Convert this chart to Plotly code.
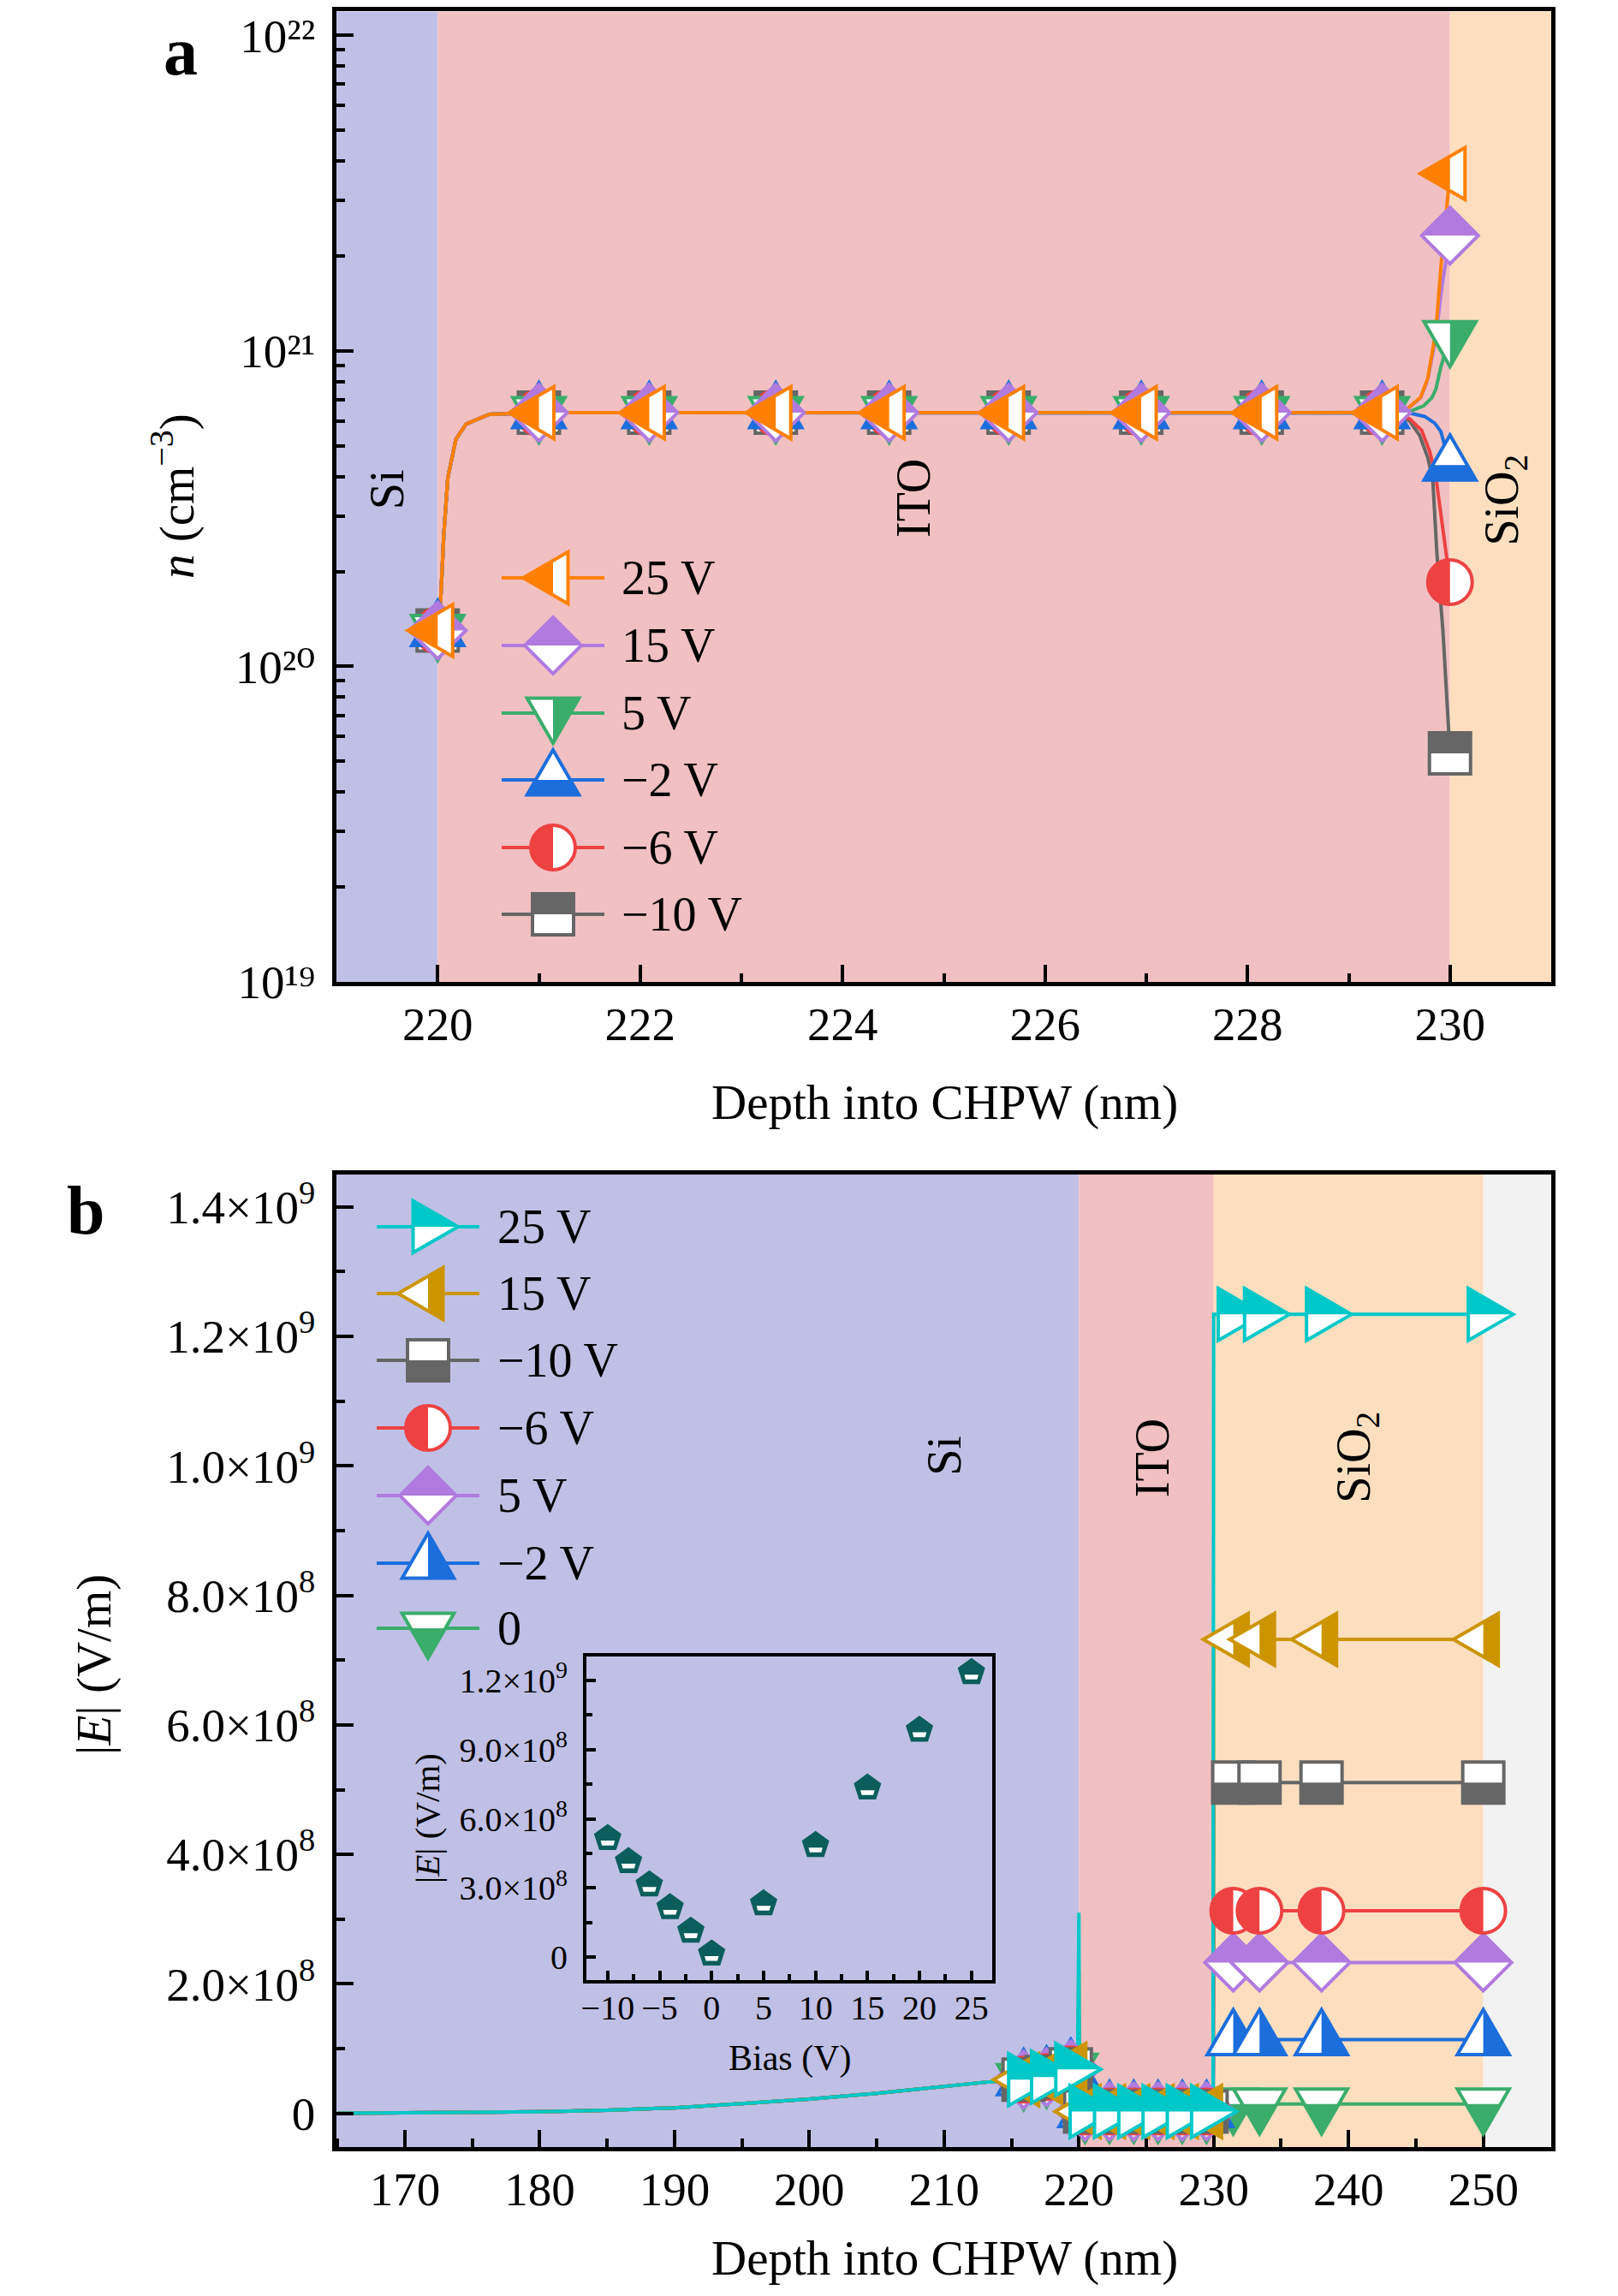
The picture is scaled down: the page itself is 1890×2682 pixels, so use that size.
import math
import plotly.graph_objects as go

W, H = 1890, 2682
OFF = 8  # default page body margin of the written html
WF, HF = W - 2 * OFF, H - 2 * OFF
FONT = "Liberation Serif"

# ---------------- Panel a: carrier density n (cm^-3) vs depth (nm) ----------------
depth_a_common = [220.0, 220.03, 220.06, 220.10, 220.18, 220.28, 220.51,
                  221.0, 222.09, 223.34, 224.46, 225.64, 226.95, 228.14, 229.33]
n_a_common = [1.30e20, 1.63e20, 2.60e20, 3.96e20, 5.25e20, 5.86e20, 6.30e20,
              6.37e20, 6.37e20, 6.37e20, 6.37e20, 6.37e20, 6.37e20, 6.37e20, 6.37e20]

tail_x_a_25 = [229.45, 229.58, 229.71, 229.78, 229.86, 229.91, 230.0]
tail_n_a_25 = [6.38e20, 6.57e20, 7.13e20, 8.19e20, 1.15e21, 1.84e21, 3.65e21]
tail_x_a_15 = [229.45, 229.58, 229.71, 229.78, 229.86, 229.92, 230.0]
tail_n_a_15 = [6.38e20, 6.55e20, 7.10e20, 8.10e20, 1.10e21, 1.60e21, 2.32e21]
tail_x_a_5 = [229.45, 229.60, 229.74, 229.82, 229.86, 229.91, 230.0]
tail_n_a_5 = [6.37e20, 6.42e20, 6.70e20, 7.10e20, 7.55e20, 8.90e20, 1.11e21]
tail_x_a_m2 = [229.45, 229.60, 229.75, 229.85, 229.91, 229.96, 230.0]
tail_n_a_m2 = [6.37e20, 6.35e20, 6.20e20, 5.90e20, 5.55e20, 4.90e20, 4.35e20]
tail_x_a_m6 = [229.45, 229.60, 229.72, 229.80, 229.86, 229.91, 229.96, 230.0]
tail_n_a_m6 = [6.30e20, 6.10e20, 5.60e20, 4.80e20, 4.00e20, 3.00e20, 2.30e20, 1.85e20]
tail_x_a_m10 = [229.45, 229.60, 229.70, 229.78, 229.83, 229.87, 229.93, 230.0]
tail_n_a_m10 = [6.30e20, 6.00e20, 5.40e20, 4.60e20, 3.90e20, 2.30e20, 1.30e20, 5.30e19]

marker_depth_a = [220.0, 221.0, 222.09, 223.34, 224.46, 225.64, 226.95, 228.14, 229.33, 230.0]

# ---------------- Panel b: |E| (V/m) vs depth (nm) ----------------
depth_b_si = [165.0, 170.0, 175.0, 180.0, 185.0, 190.0, 195.0, 200.0, 205.0, 210.0,
              213.0, 215.9, 217.6, 219.4, 219.9]
E_b_si = [2e5, 6e5, 1.2e6, 2.5e6, 5e6, 8.6e6, 1.5e7, 2.2e7, 3.1e7, 4.1e7,
          4.8e7, 5.2e7, 5.6e7, 6.8e7, 7.5e7]
depth_b_ito = [220.0, 220.05, 220.46, 222.27, 224.07, 225.87, 227.67, 229.47, 229.95]
E_ito_25 = [3.1e8, 3e6, 3e6, 3e6, 3e6, 3e6, 3e6, 3e6, 3e6]
E_ito_15 = [2.2e8, 3e6, 3e6, 3e6, 3e6, 3e6, 3e6, 3e6, 3e6]
E_ito_m10 = [1.5e8, 3e6, 3e6, 3e6, 3e6, 3e6, 3e6, 3e6, 3e6]
E_ito_m6 = [1.0e8, 3e6, 3e6, 3e6, 3e6, 3e6, 3e6, 3e6, 3e6]
E_ito_5 = [9.0e7, 3e6, 3e6, 3e6, 3e6, 3e6, 3e6, 3e6, 3e6]
E_ito_m2 = [6.0e7, 3e6, 3e6, 3e6, 3e6, 3e6, 3e6, 3e6, 3e6]
E_ito_0 = [3.0e7, 2e6, 2e6, 2e6, 2e6, 2e6, 2e6, 2e6, 2e6]
depth_b_ox = [230.0, 231.45, 233.4, 238.0, 250.0]
E_ox_25 = [1.234e9, 1.234e9, 1.234e9, 1.234e9, 1.234e9]
E_ox_15 = [7.32e8, 7.32e8, 7.32e8, 7.32e8, 7.32e8]
E_ox_m10 = [5.11e8, 5.11e8, 5.11e8, 5.11e8, 5.11e8]
E_ox_m6 = [3.13e8, 3.13e8, 3.13e8, 3.13e8, 3.13e8]
E_ox_5 = [2.33e8, 2.33e8, 2.33e8, 2.33e8, 2.33e8]
E_ox_m2 = [1.14e8, 1.14e8, 1.14e8, 1.14e8, 1.14e8]
E_ox_0 = [1.46e7, 1.46e7, 1.46e7, 1.46e7, 1.46e7]

marker_depth_b = [215.9, 217.6, 219.4, 220.46, 222.27, 224.07, 225.87, 227.67,
                  229.47, 231.45, 233.4, 238.0, 250.0]

# ---------------- Inset: |E| in SiO2 vs bias ----------------
bias_v = [-10, -8, -6, -4, -2, 0, 5, 10, 15, 20, 25]
E_inset = [5.15e8, 4.15e8, 3.14e8, 2.15e8, 1.13e8, 1.4e7, 2.32e8, 4.85e8, 7.34e8, 9.85e8, 1.235e9]

# ---------------- tick labels ----------------
SUP0 = "<span style='font-family:DejaVu Serif'>⁰</span>"
xtick_a = [220, 222, 224, 226, 228, 230]
ytick_a = [1e19, 1e20, 1e21, 1e22]
ytext_a = ["10¹⁹", "10²" + SUP0, "10²¹", "10²²"]
xtick_b = [170, 180, 190, 200, 210, 220, 230, 240, 250]
ytick_b = [0, 2e8, 4e8, 6e8, 8e8, 1.0e9, 1.2e9, 1.4e9]
ytext_b = ["0", "2.0×10<sup>8</sup>", "4.0×10<sup>8</sup>", "6.0×10<sup>8</sup>",
           "8.0×10<sup>8</sup>", "1.0×10<sup>9</sup>", "1.2×10<sup>9</sup>", "1.4×10<sup>9</sup>"]
xtick_in = [-10, -5, 0, 5, 10, 15, 20, 25]
xtext_in = ["−10", "−5", "0", "5", "10", "15", "20", "25"]
ytick_in = [0, 3e8, 6e8, 9e8, 1.2e9]
ytext_in = ["0", "3.0×10<sup>8</sup>", "6.0×10<sup>8</sup>", "9.0×10<sup>8</sup>", "1.2×10<sup>9</sup>"]

# ---------------- colours ----------------
ORANGE, PURPLE, GREEN, BLUE, RED, GRAY = "#FF8000", "#B07ADF", "#3AAD6B", "#1C6EDC", "#EE4242", "#666666"
CYAN, GOLD, TEAL = "#00C8C8", "#CC9500", "#0B5E5C"
C_SI, C_ITO, C_OX, C_AIR = "#C0C0E6", "#F1C0C2", "#FDDFC0", "#F2F2F2"

S3 = math.sqrt(3.0)


def xp(px):
    return (px - OFF) / WF


def yp(py):
    return 1 - (py - OFF) / HF


def poly(pts):
    return "M " + " L ".join(f"{x:.2f},{y:.2f}" for x, y in pts) + " Z"


def circle_full(r):
    k = 0.5523 * r
    return (f"M 0,{r:.2f} C {k:.2f},{r:.2f} {r:.2f},{k:.2f} {r:.2f},0 "
            f"C {r:.2f},{-k:.2f} {k:.2f},{-r:.2f} 0,{-r:.2f} "
            f"C {-k:.2f},{-r:.2f} {-r:.2f},{-k:.2f} {-r:.2f},0 "
            f"C {-r:.2f},{k:.2f} {-k:.2f},{r:.2f} 0,{r:.2f} Z")


def circle_left(r):
    k = 0.5523 * r
    return (f"M 0,{r:.2f} C {-k:.2f},{r:.2f} {-r:.2f},{k:.2f} {-r:.2f},0 "
            f"C {-r:.2f},{-k:.2f} {-k:.2f},{-r:.2f} 0,{-r:.2f} Z")


def geometry(sym, s, half):
    """returns (full outline path, partial path) in pixel offsets (y up)."""
    if sym == "tri-left":
        full = [(-s, 0), (s / 2, s * S3 / 2), (s / 2, -s * S3 / 2)]
        if half == "left":
            part = [(-s, 0), (0, s / S3), (0, -s / S3)]
        else:
            part = [(0, s / S3), (s / 2, s * S3 / 2), (s / 2, -s * S3 / 2), (0, -s / S3)]
        return poly(full), poly(part)
    if sym == "tri-right":
        full = [(s, 0), (-s / 2, s * S3 / 2), (-s / 2, -s * S3 / 2)]
        part = [(-s / 2, 0), (-s / 2, s * S3 / 2), (s, 0)]
        return poly(full), poly(part)
    if sym == "tri-up":
        full = [(0, s), (s * S3 / 2, -s / 2), (-s * S3 / 2, -s / 2)]
        if half == "bottom":
            part = [(-s / S3, 0), (s / S3, 0), (s * S3 / 2, -s / 2), (-s * S3 / 2, -s / 2)]
        else:
            part = [(0, s), (s * S3 / 2, -s / 2), (0, -s / 2)]
        return poly(full), poly(part)
    if sym == "tri-down":
        full = [(0, -s), (s * S3 / 2, s / 2), (-s * S3 / 2, s / 2)]
        if half == "right":
            part = [(0, s / 2), (s * S3 / 2, s / 2), (0, -s)]
        else:
            part = [(-s / S3, 0), (s / S3, 0), (0, -s)]
        return poly(full), poly(part)
    if sym == "diamond":
        full = [(0, s), (s, 0), (0, -s), (-s, 0)]
        part = [(-s, 0), (0, s), (s, 0)]
        return poly(full), poly(part)
    if sym == "square":
        full = [(-s, s), (s, s), (s, -s), (-s, -s)]
        if half == "top":
            part = [(-s, 0), (-s, s), (s, s), (s, 0)]
        else:
            part = [(-s, 0), (-s, -s), (s, -s), (s, 0)]
        return poly(full), poly(part)
    if sym == "circle":
        return circle_full(s), circle_left(s)
    if sym == "pentagon":
        full = [(s * math.cos(math.radians(a)), s * math.sin(math.radians(a)))
                for a in (90, 18, -54, -126, 162)]
        bar = [(-0.55 * s, -0.18 * s), (0.55 * s, -0.18 * s), (0.45 * s, -0.55 * s), (-0.45 * s, -0.55 * s)]
        return poly(full), poly(bar)
    raise ValueError(sym)


def marker_shapes(sym, s, half, color, x, y, xref, yref, lw=4):
    full, part = geometry(sym, s, half)
    common = dict(type="path", xref=xref, yref=yref, xsizemode="pixel", ysizemode="pixel",
                  xanchor=x, yanchor=y, layer="above")
    if sym == "pentagon":
        return [dict(common, path=full, fillcolor=color, line=dict(color=color, width=lw)),
                dict(common, path=part, fillcolor="white", line=dict(width=0))]
    return [dict(common, path=full, fillcolor="white", line=dict(color=color, width=lw)),
            dict(common, path=part, fillcolor=color, line=dict(width=0))]


PLOTLY_SYM = {"tri-left": "triangle-left", "tri-right": "triangle-right", "tri-up": "triangle-up",
              "tri-down": "triangle-down", "diamond": "diamond", "square": "square",
              "circle": "circle", "pentagon": "pentagon"}
SIZE = {"tri-left": 35, "tri-right": 35, "tri-up": 35, "tri-down": 35, "diamond": 33,
        "square": 24, "circle": 26, "pentagon": 15}
TRACE_SIZE = {"tri-left": 44, "tri-right": 44, "tri-up": 44, "tri-down": 44, "diamond": 46,
              "square": 44, "circle": 48, "pentagon": 28}

fig = go.Figure()
shapes = []
annotations = []

# ---------------- background bands ----------------
bands_a = [(219, 220, C_SI), (220, 230, C_ITO), (230, 231, C_OX)]
bands_b = [(164.92, 220, C_SI), (220, 230, C_ITO), (230, 250, C_OX), (250, 255.04, C_AIR)]
for x0, x1, c in bands_a:
    shapes.append(dict(type="rect", xref="x", yref="y domain", x0=x0, x1=x1, y0=0, y1=1,
                       fillcolor=c, line=dict(width=0), layer="below"))
for x0, x1, c in bands_b:
    shapes.append(dict(type="rect", xref="x2", yref="y2 domain", x0=x0, x1=x1, y0=0, y1=1,
                       fillcolor=c, line=dict(width=0), layer="below"))

# ---------------- panel a series (bottom -> top) ----------------
series_a = [
    ("−10 V", GRAY, "square", "top", tail_x_a_m10, tail_n_a_m10),
    ("−6 V", RED, "circle", "left", tail_x_a_m6, tail_n_a_m6),
    ("−2 V", BLUE, "tri-up", "bottom", tail_x_a_m2, tail_n_a_m2),
    ("5 V", GREEN, "tri-down", "right", tail_x_a_5, tail_n_a_5),
    ("15 V", PURPLE, "diamond", "top", tail_x_a_15, tail_n_a_15),
    ("25 V", ORANGE, "tri-left", "left", tail_x_a_25, tail_n_a_25),
]
for name, color, sym, half, tx, tn in series_a:
    xs = depth_a_common + tx
    ys = n_a_common + tn
    fig.add_trace(go.Scatter(x=xs, y=ys, mode="lines", line=dict(color=color, width=4),
                             xaxis="x", yaxis="y", name=name, showlegend=False))
    mx = [x for x in xs if x in marker_depth_a]
    my = [y for x, y in zip(xs, ys) if x in marker_depth_a]
    fig.add_trace(go.Scatter(x=mx, y=my, mode="markers", xaxis="x", yaxis="y", showlegend=False,
                             marker=dict(symbol=PLOTLY_SYM[sym], size=TRACE_SIZE[sym] * 0.6, color="white",
                                         line=dict(color=color, width=2))))
    for x, y in zip(mx, my):
        shapes += marker_shapes(sym, SIZE[sym], half, color, x, y, "x", "y")

# ---------------- panel b series (bottom -> top) ----------------
series_b = [
    ("0", GREEN, "tri-down", "bottom", E_ito_0, E_ox_0),
    ("−2 V", BLUE, "tri-up", "right", E_ito_m2, E_ox_m2),
    ("5 V", PURPLE, "diamond", "top", E_ito_5, E_ox_5),
    ("−6 V", RED, "circle", "left", E_ito_m6, E_ox_m6),
    ("−10 V", GRAY, "square", "bottom", E_ito_m10, E_ox_m10),
    ("15 V", GOLD, "tri-left", "right", E_ito_15, E_ox_15),
    ("25 V", CYAN, "tri-right", "top", E_ito_25, E_ox_25),
]
for name, color, sym, half, e_ito, e_ox in series_b:
    xs = depth_b_si + depth_b_ito + depth_b_ox
    ys = E_b_si + e_ito + e_ox
    fig.add_trace(go.Scatter(x=xs, y=ys, mode="lines", line=dict(color=color, width=4),
                             xaxis="x2", yaxis="y2", name=name, showlegend=False))
    mx = [x for x in xs if x in marker_depth_b]
    my = [y for x, y in zip(xs, ys) if x in marker_depth_b]
    fig.add_trace(go.Scatter(x=mx, y=my, mode="markers", xaxis="x2", yaxis="y2", showlegend=False,
                             marker=dict(symbol=PLOTLY_SYM[sym], size=TRACE_SIZE[sym] * 0.6, color="white",
                                         line=dict(color=color, width=2))))
    for x, y in zip(mx, my):
        shapes += marker_shapes(sym, SIZE[sym], half, color, x, y, "x2", "y2")

# ---------------- inset ----------------
fig.add_trace(go.Scatter(x=bias_v, y=E_inset, mode="markers", xaxis="x3", yaxis="y3", showlegend=False,
                         marker=dict(symbol="pentagon", size=24, color=TEAL)))
for x, y in zip(bias_v, E_inset):
    shapes += marker_shapes("pentagon", SIZE["pentagon"], None, TEAL, x, y, "x3", "y3", lw=3)

# ---------------- custom legends ----------------
legend_a = [("25 V", ORANGE, "tri-left", "left"), ("15 V", PURPLE, "diamond", "top"),
            ("5 V", GREEN, "tri-down", "right"), ("−2 V", BLUE, "tri-up", "bottom"),
            ("−6 V", RED, "circle", "left"), ("−10 V", GRAY, "square", "top")]
rows_a = [675, 754, 833, 911, 990, 1068]
legend_b = [("25 V", CYAN, "tri-right", "top"), ("15 V", GOLD, "tri-left", "right"),
            ("−10 V", GRAY, "square", "bottom"), ("−6 V", RED, "circle", "left"),
            ("5 V", PURPLE, "diamond", "top"), ("−2 V", BLUE, "tri-up", "right"),
            ("0", GREEN, "tri-down", "bottom")]
rows_b = [1433, 1511, 1589, 1668, 1747, 1826, 1902]


def add_legend(items, rows, lx0, lx1, mx, tx):
    for (label, color, sym, half), ry in zip(items, rows):
        shapes.append(dict(type="line", xref="paper", yref="paper", x0=xp(lx0), x1=xp(lx1),
                           y0=yp(ry), y1=yp(ry), line=dict(color=color, width=4), layer="above"))
        shapes.extend(marker_shapes(sym, SIZE[sym], half, color, xp(mx), yp(ry), "paper", "paper"))
        annotations.append(dict(text=label, x=xp(tx), y=yp(ry), xref="paper", yref="paper",
                                xanchor="left", yanchor="middle", showarrow=False,
                                font=dict(family=FONT, size=56, color="black")))


add_legend(legend_a, rows_a, 586, 706, 646, 724)
add_legend(legend_b, rows_b, 440, 560, 500, 579)

# ---------------- text labels ----------------


def text(t, x, y, size, xref="paper", yref="paper", angle=0, bold=False):
    annotations.append(dict(text=(f"<b>{t}</b>" if bold else t), x=x, y=y, xref=xref, yref=yref,
                            xanchor="center", yanchor="middle", showarrow=False, textangle=angle,
                            font=dict(family=FONT, size=size, color="black")))


text("a", xp(211), yp(60), 80, bold=True)
text("b", xp(100), yp(1414), 80, bold=True)
text("Si", 219.5, yp(572), 56, xref="x", angle=-90)
text("ITO", 224.7, yp(582), 56, xref="x", angle=-90)
text("SiO<sub>2</sub>", 230.54, yp(584), 56, xref="x", angle=-90)
text("Si", 210.0, yp(1700), 56, xref="x2", angle=-90)
text("ITO", 225.46, yp(1703), 56, xref="x2", angle=-90)
text("SiO<sub>2</sub>", 240.6, yp(1702), 56, xref="x2", angle=-90)
text("Depth into CHPW (nm)", xp(1103), yp(1288), 57)
text("Depth into CHPW (nm)", xp(1103), yp(2638), 57)
text("<i>n</i> (cm<sup>−3</sup>)", xp(202), yp(580), 57, angle=-90)
text("|<i>E</i>| (V/m)", xp(110), yp(1945), 57, angle=-90)
text("|<i>E</i>| (V/m)", xp(499), yp(2124), 41, angle=-90)
text("Bias (V)", xp(922), yp(2404), 42)

# ---------------- axes ----------------
axc = dict(showline=True, linewidth=4.5, linecolor="black", mirror=True, ticks="inside",
           tickwidth=4, ticklen=20, tickcolor="black", showgrid=False, zeroline=False,
           automargin=False, ticklabeloverflow="allow",
           tickfont=dict(family=FONT, size=55, color="black"))
minor_main = dict(ticks="inside", ticklen=10, tickwidth=4, tickcolor="black", showgrid=False)

log_minor = [m * 10.0 ** e for e in (19, 20, 21) for m in range(2, 10)]

fig.update_layout(
    width=WF, height=HF, template="none",
    margin=dict(l=0, r=0, t=0, b=0),
    paper_bgcolor="white", plot_bgcolor="rgba(0,0,0,0)",
    showlegend=False,
    font=dict(family=FONT, color="black"),
    xaxis=dict(axc, domain=[xp(393), xp(1812)], anchor="y", range=[219, 231],
               tickmode="array", tickvals=xtick_a, ticktext=[str(v) for v in xtick_a],
               minor=dict(minor_main, dtick=1, tick0=0), ticklabelstandoff=-3),
    yaxis=dict(axc, domain=[yp(1147), yp(13.4)], anchor="x", type="log", range=[19, 22.076],
               tickmode="array", tickvals=ytick_a, ticktext=ytext_a,
               minor=dict(minor_main, tickmode="array", tickvals=log_minor), ticklabelstandoff=9),
    xaxis2=dict(axc, domain=[xp(393), xp(1812)], anchor="y2", range=[164.92, 255.04],
                tickmode="array", tickvals=xtick_b, ticktext=[str(v) for v in xtick_b],
                minor=dict(minor_main, dtick=5, tick0=0), ticklabelstandoff=-3),
    yaxis2=dict(axc, domain=[yp(2508), yp(1372)], anchor="x2", range=[-5.2e7, 1.45e9],
                tickmode="array", tickvals=ytick_b, ticktext=ytext_b,
                minor=dict(minor_main, dtick=1e8, tick0=0), ticklabelstandoff=9),
    xaxis3=dict(axc, domain=[xp(685), xp(1159)], anchor="y3", range=[-12.05, 27],
                tickmode="array", tickvals=xtick_in, ticktext=xtext_in, ticklen=11, linewidth=4,
                tickfont=dict(family=FONT, size=40, color="black"),
                minor=dict(minor_main, dtick=2.5, tick0=0, ticklen=7), ticklabelstandoff=-6),
    yaxis3=dict(axc, domain=[yp(2313), yp(1935)], anchor="x3", range=[-1.0e8, 1.304e9],
                tickmode="array", tickvals=ytick_in, ticktext=ytext_in, ticklen=11, linewidth=4,
                tickfont=dict(family=FONT, size=40, color="black"),
                minor=dict(minor_main, dtick=1.5e8, tick0=0, ticklen=7), ticklabelstandoff=10),
    shapes=shapes,
    annotations=annotations,
)

fig.write_html("out.html")
